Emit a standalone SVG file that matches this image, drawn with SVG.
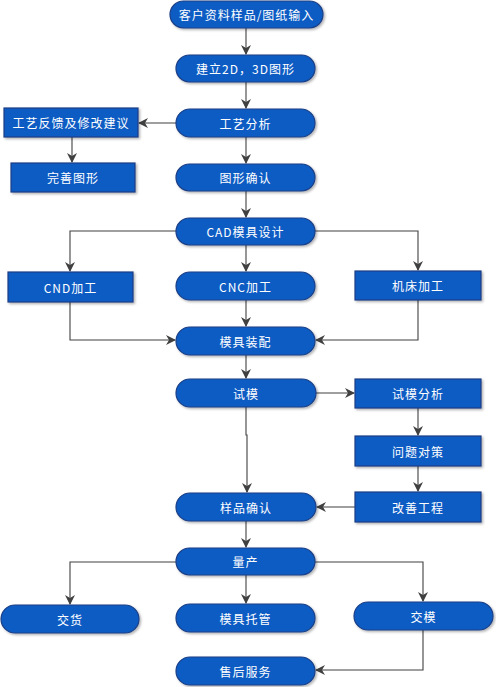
<svg xmlns="http://www.w3.org/2000/svg" width="496" height="687" viewBox="0 0 496 687">
<style>
.n{fill:#0B5CC4;stroke:#1B3F86;stroke-width:1.2;filter:url(#sh)}
.t{fill:#fff;font-family:"Noto Sans CJK SC","Liberation Sans",sans-serif;font-size:12px;text-anchor:middle;dominant-baseline:central;letter-spacing:1px}
.c{fill:none;stroke:#404040;stroke-width:1.1;marker-end:url(#ar)}
</style>
<defs>
<filter id="sh" x="-10%" y="-20%" width="125%" height="150%">
<feDropShadow dx="1.5" dy="1.5" stdDeviation="1" flood-color="#000" flood-opacity="0.3"/>
</filter>
<marker id="ar" viewBox="0 0 10 10" refX="9" refY="5" markerWidth="10" markerHeight="10" markerUnits="userSpaceOnUse" orient="auto">
<path d="M0,0 L10,5 L0,10 L3,5 Z" fill="#404040"/>
</marker>
</defs>
<rect width="496" height="687" fill="#fff"/>
<g id="connectors">
<path class="c" d="M246,28 V54"/>
<path class="c" d="M246,82 V108"/>
<path class="c" d="M176,123 H139"/>
<path class="c" d="M72,137 V162"/>
<path class="c" d="M246,137 V163"/>
<path class="c" d="M246,191 V217"/>
<path class="c" d="M176,231 H70 V271"/>
<path class="c" d="M246,245 V271"/>
<path class="c" d="M315,231 H418 V270"/>
<path class="c" d="M70,302 V340 H175"/>
<path class="c" d="M246,300 V326"/>
<path class="c" d="M418,300 V340 H316"/>
<path class="c" d="M246,355 V378"/>
<path class="c" d="M316,393 H354"/>
<path class="c" d="M418,408 V435"/>
<path class="c" d="M418,466 V491"/>
<path class="c" d="M355,507 H317"/>
<path class="c" d="M246,407 V435 H247 V492"/>
<path class="c" d="M246,521 V547"/>
<path class="c" d="M176,562 H70 V604"/>
<path class="c" d="M246,575 V603"/>
<path class="c" d="M315,562 H423 V601"/>
<path class="c" d="M423,630 V670 H316"/>
</g>
<g id="n1"><rect class="n" x="170" y="1" width="153" height="27" rx="13.5"/><text class="t" x="246.5" y="14.5">客户资料样品/图纸输入</text></g>
<g id="n2"><rect class="n" x="176" y="55" width="139" height="27" rx="13.5"/><text class="t" x="245.5" y="68.5">建立2D，3D图形</text></g>
<g id="n3"><rect class="n" x="176" y="109" width="139" height="28" rx="14"/><text class="t" x="245.5" y="123">工艺分析</text></g>
<g id="n4"><rect class="n" x="4" y="108" width="134" height="29"/><text class="t" x="71" y="122.5">工艺反馈及修改建议</text></g>
<g id="n5"><rect class="n" x="11" y="163" width="124" height="29"/><text class="t" x="73" y="177.5">完善图形</text></g>
<g id="n6"><rect class="n" x="176" y="164" width="139" height="27" rx="13.5"/><text class="t" x="245.5" y="177.5">图形确认</text></g>
<g id="n7"><rect class="n" x="176" y="218" width="139" height="27" rx="13.5"/><text class="t" x="245.5" y="231.5">CAD模具设计</text></g>
<g id="n8"><rect class="n" x="8" y="272" width="125" height="30"/><text class="t" x="70.5" y="287">CND加工</text></g>
<g id="n9"><rect class="n" x="176" y="272" width="139" height="28" rx="14"/><text class="t" x="245.5" y="286">CNC加工</text></g>
<g id="n10"><rect class="n" x="355" y="271" width="126" height="29"/><text class="t" x="418" y="285.5">机床加工</text></g>
<g id="n11"><rect class="n" x="176" y="327" width="139" height="28" rx="14"/><text class="t" x="245.5" y="341">模具装配</text></g>
<g id="n12"><rect class="n" x="176" y="379" width="140" height="28" rx="14"/><text class="t" x="246" y="393">试模</text></g>
<g id="n13"><rect class="n" x="355" y="379" width="126" height="29"/><text class="t" x="418" y="393.5">试模分析</text></g>
<g id="n14"><rect class="n" x="355" y="436" width="126" height="30"/><text class="t" x="418" y="451">问题对策</text></g>
<g id="n15"><rect class="n" x="355" y="492" width="126" height="30"/><text class="t" x="418" y="507">改善工程</text></g>
<g id="n16"><rect class="n" x="176" y="493" width="140" height="28" rx="14"/><text class="t" x="246" y="507">样品确认</text></g>
<g id="n17"><rect class="n" x="176" y="548" width="139" height="27" rx="13.5"/><text class="t" x="245.5" y="561.5">量产</text></g>
<g id="n18"><rect class="n" x="1" y="605" width="138" height="28" rx="14"/><text class="t" x="70" y="619">交货</text></g>
<g id="n19"><rect class="n" x="176" y="604" width="139" height="28" rx="14"/><text class="t" x="245.5" y="618">模具托管</text></g>
<g id="n20"><rect class="n" x="354" y="602" width="139" height="28" rx="14"/><text class="t" x="423.5" y="616">交模</text></g>
<g id="n21"><rect class="n" x="176" y="657" width="139" height="28" rx="14"/><text class="t" x="245.5" y="671">售后服务</text></g>
</svg>
